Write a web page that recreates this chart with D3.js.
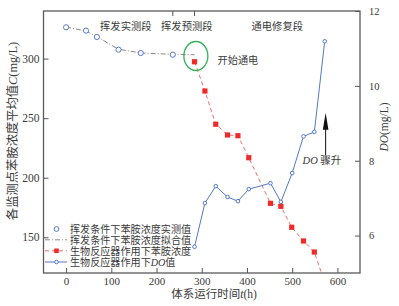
<!DOCTYPE html>
<html>
<head>
<meta charset="utf-8">
<script src="https://cdn.jsdelivr.net/npm/d3@7"></script>
<style>
    body { margin: 0; background: #fff; }
    text { font-family: "Liberation Serif", "Noto Sans CJK SC", serif; fill: #3a3a3a; }
</style>
</head>
<body>
<svg id="chart"></svg>
<script>
// Chart data
var T_MEASURED = [0, 44, 68, 116, 165, 236];
var C_MEASURED = [326.3, 323.5, 318.2, 307.5, 304.7, 303.3];

var T_FIT = [0, 44, 68, 116, 165, 236, 284];
var C_FIT = [326.5, 323.2, 318.4, 307.9, 304.8, 303.6, 303.3];

var T_BIO = [284, 307, 331, 357, 380, 404, 452, 475, 499, 525, 549, 572];
var C_BIO = [297.4, 272.8, 244.9, 235.9, 235.3, 216.8, 178.5, 176.0, 158.4, 146.9, 137.6, 112];

var T_DO = [284, 307, 331, 357, 380, 404, 452, 475, 500, 525, 549, 572];
var DO_VALUES = [5.70, 6.87, 7.32, 7.03, 6.92, 7.24, 7.40, 6.90, 7.67, 8.65, 8.77, 11.19];

var X_TICKS = [0, 100, 200, 300, 400, 500, 600];
var C_TICKS = [150, 200, 250, 300];
var DO_TICKS = [6, 8, 10, 12];

var SECTION_BOUNDS = [236, 284];
var SECTION_NAMES = ["挥发实测段", "挥发预测段", "通电修复段"];
var SECTION_CENTERS = [132, 267, 467];

var LEGEND_LABELS = ["挥发条件下苯胺浓度实测值", "挥发条件下苯胺浓度拟合值", "生物反应器作用下苯胺浓度", "生物反应器作用下"];

var BLUE = "#5479c9", RED = "#ee2b2b", GREY = "#8a8a8a", GREEN = "#35b35a";

var width = 399, height = 306;
var plotL = 43.5, plotR = 360, plotT = 11, plotB = 273;

var svg = d3.select("#chart").attr("width", width).attr("height", height);

var x = d3.scaleLinear().domain([-50, 650]).range([plotL, plotR]);
var yC = d3.scaleLinear().domain([120, 340]).range([plotB, plotT]);
var yDO = d3.scaleLinear().domain([5, 12]).range([plotB, plotT]);

function zip(a, b) {
    var out = [];
    for (var i = 0; i < a.length; i++) out.push({t: a[i], v: b[i]});
    return out;
}

var measured = zip(T_MEASURED, C_MEASURED);
var fit = zip(T_FIT, C_FIT);
var bio = zip(T_BIO, C_BIO);
var dox = zip(T_DO, DO_VALUES);

svg.append("clipPath").attr("id", "plot-clip")
    .append("rect").attr("x", plotL).attr("y", plotT)
    .attr("width", plotR - plotL).attr("height", plotB - plotT);

// axes (ticks point inward)
function axisStyle(g, size) {
    g.select(".domain").remove();
    g.selectAll("line").attr("stroke", "#555");
    g.selectAll("text").style("font-size", size + "px").attr("fill", "#333");
}

svg.append("g").attr("transform", "translate(0," + plotB + ")")
    .call(d3.axisBottom(x).tickValues(X_TICKS).tickSize(-5).tickPadding(4))
    .call(axisStyle, 11);

svg.append("g").attr("transform", "translate(" + plotL + ",0)")
    .call(d3.axisLeft(yC).tickValues(C_TICKS).tickSize(-5).tickPadding(4))
    .call(axisStyle, 11.5);

svg.append("g").attr("transform", "translate(" + plotR + ",0)")
    .call(d3.axisRight(yDO).tickValues(DO_TICKS).tickFormat(d3.format("d")).tickSize(-5).tickPadding(9))
    .call(axisStyle, 10.5);

// section divider ticks on the top edge
svg.append("g").selectAll("line").data(SECTION_BOUNDS).enter().append("line")
    .attr("x1", function(d) { return x(d); }).attr("x2", function(d) { return x(d); })
    .attr("y1", plotT).attr("y2", plotT + 5)
    .attr("stroke", "#555");

svg.append("rect")
    .attr("x", plotL).attr("y", plotT)
    .attr("width", plotR - plotL).attr("height", plotB - plotT)
    .attr("fill", "none").attr("stroke", "#5a5a5a").attr("stroke-width", 1.3);

var plot = svg.append("g").attr("clip-path", "url(#plot-clip)");

var lineC = d3.line().x(function(d) { return x(d.t); }).y(function(d) { return yC(d.v); });
var lineDO = d3.line().x(function(d) { return x(d.t); }).y(function(d) { return yDO(d.v); });

// fitted volatile curve
plot.append("path").datum(fit).attr("d", lineC)
    .attr("fill", "none").attr("stroke", GREY).attr("stroke-width", 1)
    .attr("stroke-dasharray", "5,2,1,2");

plot.selectAll(".meas").data(measured).enter().append("circle")
    .attr("cx", function(d) { return x(d.t); })
    .attr("cy", function(d) { return yC(d.v); })
    .attr("r", 2.6)
    .attr("fill", "#fff").attr("stroke", BLUE).attr("stroke-width", 1);

// bioreactor aniline
plot.append("path").datum(bio).attr("d", lineC)
    .attr("fill", "none").attr("stroke", "#f26a6a").attr("stroke-width", 1)
    .attr("stroke-dasharray", "4,3");

plot.selectAll(".bio").data(bio.filter(function(d) { return d.v >= 120; })).enter().append("rect")
    .attr("x", function(d) { return x(d.t) - 2.6; })
    .attr("y", function(d) { return yC(d.v) - 2.6; })
    .attr("width", 5.2).attr("height", 5.2)
    .attr("fill", RED);

// DO
plot.append("path").datum(dox).attr("d", lineDO)
    .attr("fill", "none").attr("stroke", BLUE).attr("stroke-width", 1);

plot.selectAll(".do").data(dox).enter().append("circle")
    .attr("cx", function(d) { return x(d.t); })
    .attr("cy", function(d) { return yDO(d.v); })
    .attr("r", 1.8)
    .attr("fill", "#fff").attr("stroke", BLUE).attr("stroke-width", 1);

// green ring marking power-on
svg.append("ellipse")
    .attr("cx", x(287)).attr("cy", yC(302.2))
    .attr("rx", 12).attr("ry", 14.5)
    .attr("fill", "none").attr("stroke", GREEN).attr("stroke-width", 1.3);

svg.append("text").attr("x", x(335)).attr("y", yC(295.6))
    .style("font-size", "10.2px").text("开始通电");

// section labels
svg.append("g").selectAll("text").data(SECTION_NAMES).enter().append("text")
    .attr("x", function(d, i) { return x(SECTION_CENTERS[i]); })
    .attr("y", 29.5)
    .attr("text-anchor", "middle")
    .style("font-size", "10.3px")
    .text(function(d) { return d; });

// DO rise arrow
var ax = x(574), aTip = yDO(9.28), aBase = yDO(8.15);
svg.append("line").attr("x1", ax).attr("x2", ax).attr("y1", aTip + 12).attr("y2", aBase)
    .attr("stroke", "#111").attr("stroke-width", 1);
svg.append("path")
    .attr("d", "M" + ax + "," + aTip + "L" + (ax + 2.8) + "," + (aTip + 17) + "L" + (ax - 2.8) + "," + (aTip + 17) + "Z")
    .attr("fill", "#111");

var doNote = svg.append("text").attr("x", x(523)).attr("y", yDO(7.92)).style("font-size", "10.5px");
doNote.append("tspan").style("font-style", "italic").text("DO");
doNote.append("tspan").text(" 骤升");

// axis titles
var yTitle = svg.append("text")
    .attr("transform", "translate(16.5,131) rotate(-90)")
    .attr("text-anchor", "middle")
    .style("font-size", "12.3px");
yTitle.append("tspan").text("各监测点苯胺浓度平均值");
yTitle.append("tspan").style("font-style", "italic").text("C");
yTitle.append("tspan").text("(mg/L)");

var rTitle = svg.append("text")
    .attr("transform", "translate(388,127) rotate(-90)")
    .attr("text-anchor", "middle")
    .style("font-size", "11.5px");
rTitle.append("tspan").style("font-style", "italic").text("DO");
rTitle.append("tspan").text("(mg/L)");

var xTitle = svg.append("text")
    .attr("x", 214).attr("y", 298)
    .attr("text-anchor", "middle")
    .style("font-size", "11.5px");
xTitle.append("tspan").text("体系运行时间");
xTitle.append("tspan").style("font-style", "italic").text("t");
xTitle.append("tspan").text("(h)");

// legend
var legendY = [229, 239.8, 250.8, 262];
var lg = svg.append("g");
var lx0 = 45, lx1 = 67, lxm = 56.5, ltx = 70;

lg.append("circle").attr("cx", lxm).attr("cy", legendY[0]).attr("r", 2.4)
    .attr("fill", "#fff").attr("stroke", BLUE).attr("stroke-width", 1);

lg.append("line").attr("x1", lx0).attr("x2", lx1).attr("y1", legendY[1]).attr("y2", legendY[1])
    .attr("stroke", GREY).attr("stroke-dasharray", "5,2,1,2");

lg.append("line").attr("x1", lx0).attr("x2", lx1).attr("y1", legendY[2]).attr("y2", legendY[2])
    .attr("stroke", "#f26a6a").attr("stroke-dasharray", "4,3");
lg.append("rect").attr("x", lxm - 2.3).attr("y", legendY[2] - 2.3).attr("width", 4.6).attr("height", 4.6)
    .attr("fill", RED);

lg.append("line").attr("x1", lx0).attr("x2", lx1).attr("y1", legendY[3]).attr("y2", legendY[3])
    .attr("stroke", BLUE);
lg.append("circle").attr("cx", lxm).attr("cy", legendY[3]).attr("r", 1.8)
    .attr("fill", "#fff").attr("stroke", BLUE);

lg.selectAll("text").data(LEGEND_LABELS).enter().append("text")
    .attr("x", ltx)
    .attr("y", function(d, i) { return legendY[i] + 3.7; })
    .style("font-size", "10.1px")
    .each(function(d, i) {
        var t = d3.select(this);
        t.append("tspan").text(d);
        if (i === 3) {
            t.append("tspan").style("font-style", "italic").text("DO");
            t.append("tspan").text("值");
        }
    });
</script>
</body>
</html>
